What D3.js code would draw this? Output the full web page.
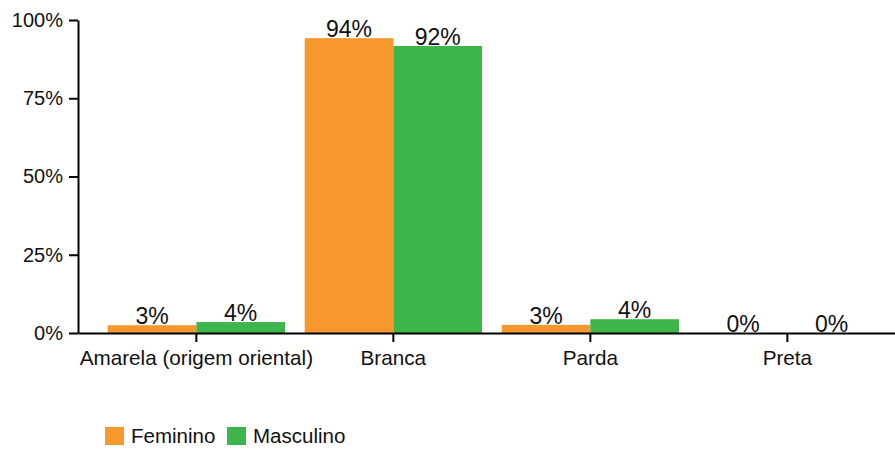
<!DOCTYPE html>
<html>
<head>
<meta charset="utf-8">
<script src="https://cdn.jsdelivr.net/npm/d3@7"></script>
<style>
  html, body { margin: 0; padding: 0; background: #fff; }
  svg { display: block; font-family: "Liberation Sans", Arial, Helvetica, sans-serif; }
</style>
</head>
<body>
<svg id="chart" width="895" height="449"></svg>
<script>
const categories = ["Amarela (origem oriental)", "Branca", "Parda", "Preta"];
const seriesNames = ["Feminino", "Masculino"];
const feminino = [2.5, 94.2, 2.6, 0];
const masculino = [3.5, 91.7, 4.4, 0];
const yTicks = [0, 25, 50, 75, 100];
const colors = ["#F7982F", "#3DB54A"];

const svg = d3.select("#chart");
const mLeft = 78, mRight = 895, mTop = 20, mBottom = 333;

const x0 = d3.scaleBand().domain(categories).range([mLeft, mRight])
  .paddingInner(0.1).paddingOuter(0.1236).align(0.61);
const x1 = d3.scaleBand().domain(seriesNames).range([0, x0.bandwidth()]);
const y = d3.scaleLinear().domain([0, 100]).range([mBottom, mTop]);
const color = d3.scaleOrdinal().domain(seriesNames).range(colors);

const data = categories.map((c, i) => ({
  cat: c,
  vals: [
    { s: seriesNames[0], v: feminino[i] },
    { s: seriesNames[1], v: masculino[i] }
  ]
}));

// bars
const groups = svg.append("g").selectAll("g").data(data).join("g")
  .attr("transform", d => `translate(${x0(d.cat)},0)`);
groups.selectAll("rect").data(d => d.vals).join("rect")
  .attr("x", d => x1(d.s))
  .attr("y", d => y(d.v))
  .attr("width", x1.bandwidth())
  .attr("height", d => y(0) - y(d.v))
  .attr("fill", d => color(d.s));

// value labels
groups.selectAll("text").data(d => d.vals).join("text")
  .attr("x", d => x1(d.s) + x1.bandwidth() / 2)
  .attr("y", d => y(d.v) - 1)
  .attr("text-anchor", "middle")
  .attr("font-size", 23)
  .attr("fill", "#111")
  .text(d => Math.round(d.v) + "%");

// y axis
const yAxis = svg.append("g").attr("transform", `translate(${mLeft},0)`)
  .call(d3.axisLeft(y).tickValues(yTicks).tickFormat(d => d + "%")
    .tickSize(9).tickSizeOuter(0).tickPadding(6));
yAxis.selectAll("path, line").attr("stroke", "#000").attr("stroke-width", 2);
yAxis.selectAll("text").attr("font-size", 20).attr("fill", "#111")
  .attr("font-family", "Liberation Sans, Arial, sans-serif");

// x axis
const xAxis = svg.append("g").attr("transform", `translate(0,${mBottom})`)
  .call(d3.axisBottom(x0).tickSize(9).tickSizeOuter(0).tickPadding(8));
xAxis.selectAll("path, line").attr("stroke", "#000").attr("stroke-width", 2);
xAxis.selectAll("text").attr("font-size", 20.7).attr("fill", "#111")
  .attr("font-family", "Liberation Sans, Arial, sans-serif");

// legend
const legendX = [105, 227];
const legend = svg.append("g").selectAll("g").data(seriesNames).join("g")
  .attr("transform", (d, i) => `translate(${legendX[i]},427)`);
legend.append("rect").attr("width", 19).attr("height", 18).attr("fill", d => color(d));
legend.append("text").attr("x", 26).attr("y", 16).attr("font-size", 20.5)
  .attr("fill", "#111").text(d => d);
</script>
</body>
</html>
